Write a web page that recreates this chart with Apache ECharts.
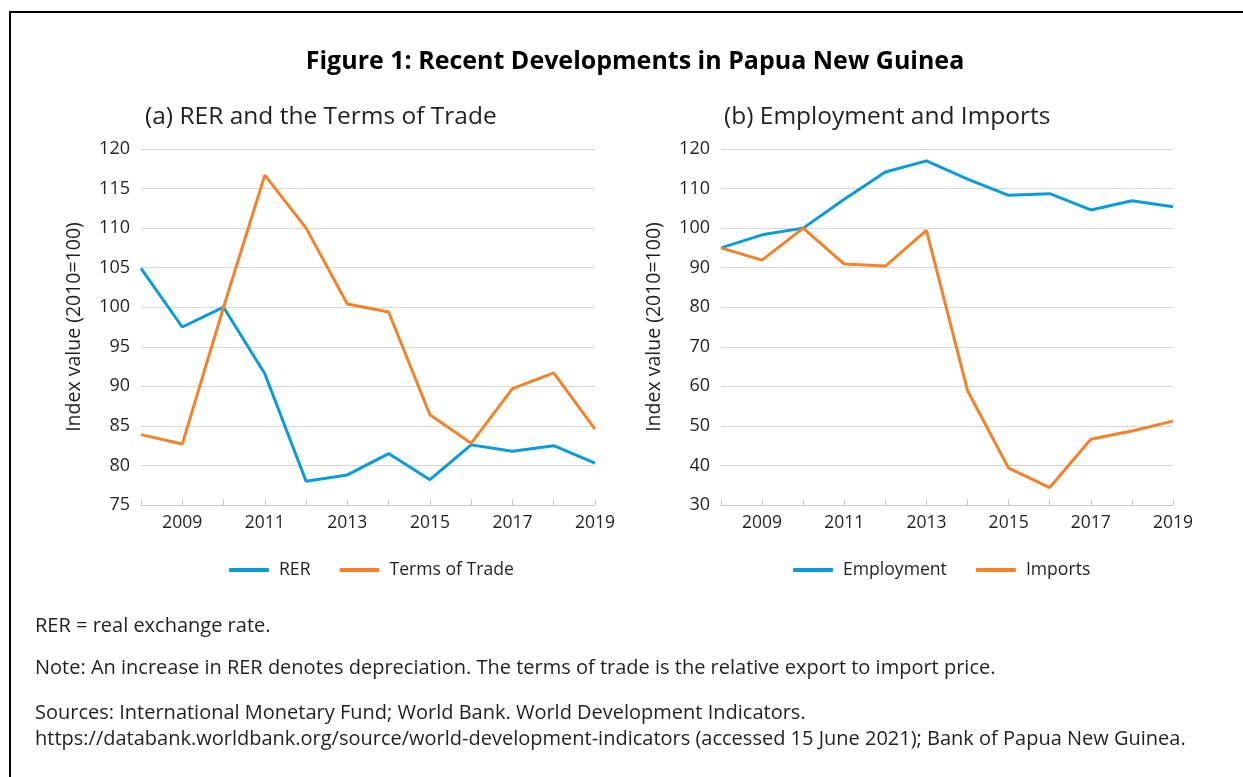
<!DOCTYPE html>
<html>
<head>
<meta charset="utf-8">
<script src="https://cdn.jsdelivr.net/npm/echarts@6/dist/echarts.min.js"></script>
<style>
  html, body { margin: 0; padding: 0; background: #fff; }
  #main { width: 1243px; height: 777px; }
</style>
</head>
<body>
<div id="main"></div>
<script>
// data
var years = ['2008','2009','2010','2011','2012','2013','2014','2015','2016','2017','2018','2019'];
var rer = [104.9, 97.5, 100, 91.6, 78.0, 78.8, 81.5, 78.2, 82.6, 81.8, 82.5, 80.3];
var termsOfTrade = [83.9, 82.7, 100, 116.7, 110.0, 100.4, 99.4, 86.4, 82.8, 89.7, 91.7, 84.6];
var employment = [95, 98.3, 100, 107.3, 114.2, 117.0, 112.4, 108.3, 108.7, 104.6, 106.9, 105.4];
var imports = [95, 91.9, 100, 90.9, 90.4, 99.4, 58.9, 39.3, 34.4, 46.6, 48.7, 51.2];

var blue = '#0a9bd9';
var orange = '#f5822a';
var font = '"Open Sans", Lato, sans-serif';

var myChart = echarts.init(document.getElementById('main'));

function xAxisFor(gridIndex) {
    return {
        type: 'category',
        gridIndex: gridIndex,
        data: years,
        boundaryGap: false,
        axisLine: { lineStyle: { color: '#c8c8c8', width: 1 } },
        axisTick: { inside: true, length: 6, interval: 0, lineStyle: { color: '#c8c8c8' } },
        axisLabel: {
            interval: function (i) { return i % 2 === 1; },
            color: '#231f20', fontFamily: font, fontSize: 17.5, margin: 9
        },
        splitLine: { show: false }
    };
}

function yAxisFor(gridIndex, min, max, interval) {
    return {
        type: 'value',
        gridIndex: gridIndex,
        min: min, max: max, interval: interval,
        name: 'Index value (2010=100)',
        nameLocation: 'middle',
        nameGap: 57,
        nameTextStyle: { color: '#231f20', fontFamily: font, fontSize: 19.5 },
        axisLine: { show: false },
        axisTick: { show: false },
        axisLabel: { color: '#231f20', fontFamily: font, fontSize: 18, margin: 11 },
        splitLine: { lineStyle: { color: '#d6d6d6', width: 1 } }
    };
}

function lineSeries(name, data, color, idx) {
    return {
        name: name,
        type: 'line',
        xAxisIndex: idx,
        yAxisIndex: idx,
        data: data,
        symbol: 'none',
        lineStyle: { color: color, width: 3 },
        itemStyle: { color: color }
    };
}

var legendStyle = {
    icon: 'roundRect',
    itemWidth: 40,
    itemHeight: 4,
    itemGap: 29,
    textStyle: { color: '#231f20', fontFamily: font, fontSize: 17.6, padding: [0, 0, 0, 5] }
};

var option = {
    backgroundColor: '#fff',
    animation: false,
    title: [{
        text: 'Figure 1: Recent Developments in Papua New Guinea',
        left: 630, top: 44, textAlign: 'center',
        textStyle: { fontFamily: font, fontWeight: 'bold', fontSize: 25, color: '#000' }
    }, {
        text: '(a) RER and the Terms of Trade',
        left: 140, top: 100,
        textStyle: { fontFamily: font, fontWeight: 'normal', fontSize: 24.5, color: '#231f20' }
    }, {
        text: '(b) Employment and Imports',
        left: 719, top: 100,
        textStyle: { fontFamily: font, fontWeight: 'normal', fontSize: 24.5, color: '#231f20' }
    }],
    legend: [
        Object.assign({ data: ['RER', 'Terms of Trade'], left: 224, top: 556 }, legendStyle),
        Object.assign({ data: ['Employment', 'Imports'], left: 788, top: 556 }, legendStyle)
    ],
    grid: [
        { left: 141, right: 1243 - 595, top: 149, bottom: 777 - 505 },
        { left: 721, right: 1243 - 1173, top: 149, bottom: 777 - 505 }
    ],
    xAxis: [xAxisFor(0), xAxisFor(1)],
    yAxis: [yAxisFor(0, 75, 120, 5), yAxisFor(1, 30, 120, 10)],
    series: [
        lineSeries('RER', rer, blue, 0),
        lineSeries('Terms of Trade', termsOfTrade, orange, 0),
        lineSeries('Employment', employment, blue, 1),
        lineSeries('Imports', imports, orange, 1)
    ],
    graphic: [{
        type: 'rect',
        shape: { x: 10, y: 12, width: 1260, height: 800 },
        style: { fill: 'none', stroke: '#000', lineWidth: 2 },
        silent: true
    }, {
        type: 'text', left: 35, top: 616,
        style: { text: 'RER = real exchange rate.', font: '20px ' + font, fill: '#231f20' }
    }, {
        type: 'text', left: 35, top: 658,
        style: { text: 'Note: An increase in RER denotes depreciation. The terms of trade is the relative export to import price.', font: '20px ' + font, fill: '#231f20' }
    }, {
        type: 'text', left: 35, top: 700,
        style: {
            text: 'Sources: International Monetary Fund; World Bank. World Development Indicators.\nhttps://databank.worldbank.org/source/world-development-indicators (accessed 15 June 2021); Bank of Papua New Guinea.',
            font: '20px ' + font, fill: '#231f20', lineHeight: 26
        }
    }]
};

myChart.setOption(option);

window.onresize = function () {
    myChart.resize();
};
</script>
</body>
</html>
